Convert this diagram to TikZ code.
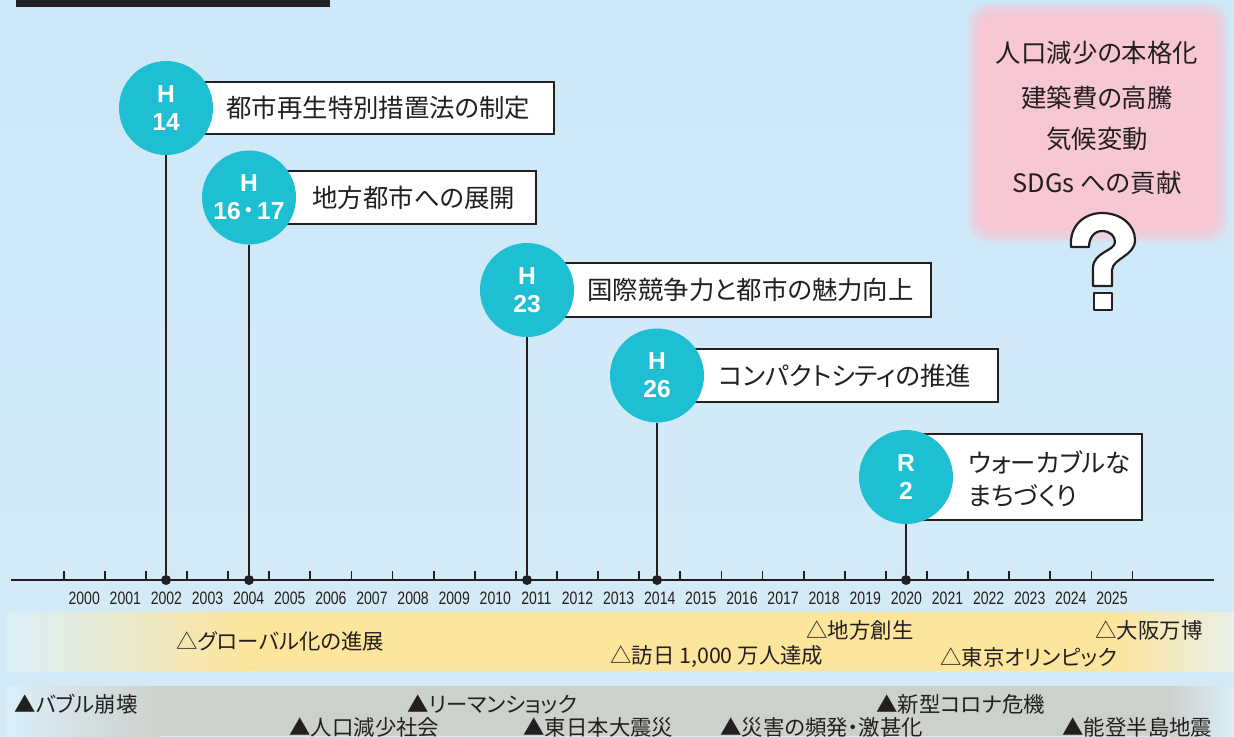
\documentclass[tikz,border=0pt]{standalone}
\usepackage{fontspec}
\setmainfont{Liberation Sans}
\newfontfamily\jp{Noto Sans CJK JP}
\newfontfamily\jpp[RawFeature=+palt]{Noto Sans CJK JP}
\definecolor{bgtop}{RGB}{205,232,248}
\definecolor{bgbot}{RGB}{213,235,247}
\definecolor{tealc}{RGB}{30,190,211}
\definecolor{pinkc}{RGB}{248,199,212}
\definecolor{bandy}{RGB}{253,229,155}
\definecolor{bandg}{RGB}{205,209,204}
\definecolor{fadel}{RGB}{218,239,249}
\definecolor{fader}{RGB}{232,240,232}
\definecolor{ink}{RGB}{35,31,32}
\tikzset{
  circ/.style={circle, fill=tealc, minimum size=47pt, inner sep=0pt, text=white,
    font=\bfseries\fontsize{12.3}{14}\selectfont, align=center},
  box/.style={draw=ink, line width=1.2pt, fill=white, inner sep=0pt, anchor=west},
  btext/.style={inner sep=0pt, anchor=west, text=ink, font=\jpp\fontsize{12.7}{16.5}\selectfont, align=left},
  ptext/.style={inner sep=0pt, text=ink, font=\jpp\fontsize{12.7}{15}\selectfont},
  band/.style={inner sep=0pt, anchor=west, text=ink, font=\jpp\fontsize{10.7}{12}\selectfont},
  year/.style={inner sep=0pt, text=ink, font=\fontsize{9}{10}\selectfont},
  dot/.style={circle, fill=ink, minimum size=5pt, inner sep=0pt},
  stem/.style={draw=ink, line width=1.4pt},
  tick/.style={draw=ink, line width=0.9pt},
  axisline/.style={draw=ink, line width=1.3pt},
  qm/.style={draw=ink, fill=white, line width=1.1pt, line join=round}
}
\begin{document}
\begin{tikzpicture}[x=0.5pt,y=-0.5pt]
\useasboundingbox (0,0) rectangle (1234,736);
% background
\shade[top color=bgtop, bottom color=bgbot] (0,0) rectangle (1234,736);
% top black bar
\fill[ink] (16,0) rectangle (330,7);
% pink box with soft edge
\foreach \i in {0,...,5}{
  \fill[pinkc, opacity=0.25, rounded corners=10pt] (968+2*\i,3+2*\i) rectangle (1228-2*\i,242-2*\i);
}
\fill[pinkc, rounded corners=6pt] (980,15) rectangle (1216,230);
\node[ptext] (p1) at (1097,53) {人口減少の本格化};
\node[ptext] (p2) at (1097,98) {建築費の高騰};
\node[ptext] (p3) at (1097,139) {気候変動};
\node[ptext] (p4) at (1097,183) {SDGs への貢献};
% question mark
\draw[qm] (1071,247) .. controls (1069,226) and (1084,213) .. (1102,213)
  .. controls (1121,213) and (1135,225) .. (1135,240)
  .. controls (1135,256) and (1113,258) .. (1112,270)
  -- (1112,286) -- (1093,286) -- (1093,268)
  .. controls (1093,252) and (1115,251) .. (1115,242)
  .. controls (1115,236) and (1110,231) .. (1102,231)
  .. controls (1094,231) and (1089,238) .. (1089,247) -- cycle;
\draw[qm] (1094,293) rectangle (1112,310);
% bands
\shade[left color=fadel, right color=bandy] (7,612) rectangle (250,671);
\fill[bandy] (249,612) rectangle (1111,671);
\shade[left color=bandy, right color=fader] (1110,612) rectangle (1234,671);
\shade[left color=fadel, right color=bandg] (7,686) rectangle (160,736);
\fill[bandg] (159,686) rectangle (1171,736);
\shade[left color=bandg, right color=fadel] (1170,686) rectangle (1234,736);
\node[band] (g1) at (176,641) {△グローバル化の進展};
\node[band] (g2) at (806,630) {△地方創生};
\node[band] (g3) at (1095,630) {△大阪万博};
\node[band] (g4) at (610,657) {△訪日 1,000 万人達成};
\node[band] (g5) at (940,657) {△東京オリンピック};
\node[band] (k1) at (14,704) {▲バブル崩壊};
\node[band] (k2) at (407,704) {▲リーマンショック};
\node[band] (k3) at (876,704) {▲新型コロナ危機};
\node[band] (k4) at (289,727) {▲人口減少社会};
\node[band] (k5) at (523,727) {▲東日本大震災};
\node[band] (k6) at (720,727) {▲災害の頻発・激甚化};
\node[band] (k7) at (1062,727) {▲能登半島地震};
% axis
\coordinate (a0) at (11,580);
\coordinate (a1) at (1214,580);
\draw[axisline] (a0) -- (a1);
\foreach \k in {0,...,26}{
  \draw[tick] ({63.7+41.11*\k},571) -- ({63.7+41.11*\k},580);
}
\foreach \k in {0,...,25}{
  \pgfmathtruncatemacro{\yr}{2000+\k}
  \node[year] (yr\k) at ({84.2+41.11*\k},598) {\scalebox{0.78}[1]{\yr}};
}
\node[dot] (d1) at (166,580) {};
\node[dot] (d2) at (249,580) {};
\node[dot] (d3) at (527,580) {};
\node[dot] (d4) at (657,580) {};
\node[dot] (d5) at (906,580) {};
% boxes
\node[box, minimum width=193.5pt, minimum height=26pt] (b1) at (166,108) {};
\node[box, minimum width=143pt, minimum height=26.5pt] (b2) at (249,197.5) {};
\node[box, minimum width=201.5pt, minimum height=27pt] (b3) at (527,290) {};
\node[box, minimum width=170pt, minimum height=26.5pt] (b4) at (657,375.5) {};
\node[box, minimum width=117.5pt, minimum height=43pt] (b5) at (906,477) {};
% circles
\node[circ] (c1) at (166,108) {H\\14};
\node[circ] (c2) at (249,197.5) {H\\16\kern1pt{\jpp\mdseries ・}\kern1pt17};
\node[circ] (c3) at (527,290) {H\\23};
\node[circ] (c4) at (657,375.5) {H\\26};
\node[circ] (c5) at (906,477) {R\\2};
% texts
\node[btext] (t1) at (226,108) {都市再生特別措置法の制定};
\node[btext] (t2) at (312,197.5) {地方都市への展開};
\node[btext] (t3) at (587,290) {国際競争力と都市の魅力向上};
\node[btext] (t4) at (718,375.5) {コンパクトシティの推進};
\node[btext] (t5) at (968,479) {ウォーカブルな\\まちづくり};
% stems
\draw[stem] (c1) -- (d1);
\draw[stem] (c2) -- (d2);
\draw[stem] (c3) -- (d3);
\draw[stem] (c4) -- (d4);
\draw[stem] (c5) -- (d5);
\end{tikzpicture}
\end{document}
